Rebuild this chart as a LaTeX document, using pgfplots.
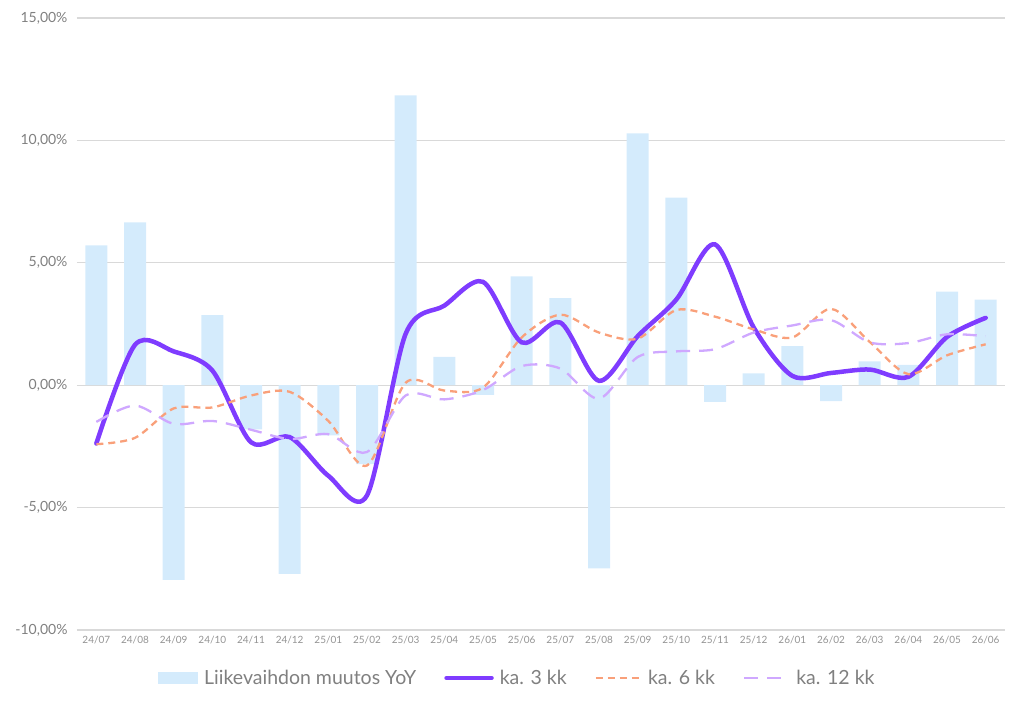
\documentclass[border=0pt]{standalone}
\usepackage{fontspec}
\setmainfont{Lato}
\usepackage{pgfplots}
\pgfplotsset{compat=1.18}
\definecolor{barblue}{HTML}{D4EBFC}
\definecolor{purp}{HTML}{7F3CFF}
\definecolor{orng}{HTML}{F9A07A}
\definecolor{lav}{HTML}{CFA8FF}
\definecolor{txtgray}{HTML}{808080}
\definecolor{gridgray}{HTML}{D9D9D9}
\pgfplotsset{
  lineleg/.style={legend image code/.code={\draw[##1] (0pt,0pt) -- (45pt,0pt);}},
  barleg/.style={legend image code/.code={\fill[barblue] (0pt,-6pt) rectangle (40pt,6pt);}},
}
\begin{document}
\begin{tikzpicture}[x=1pt,y=1pt]
\useasboundingbox (0,0) rectangle (1024,708);
\begin{axis}[
  at={(77pt,78pt)}, anchor=south west,
  width=928pt, height=612pt, scale only axis,
  xmin=-0.5, xmax=23.5, ymin=-10, ymax=15,
  axis line style={draw=none},
  ymajorgrids, grid style={gridgray, line width=1.3pt},
  major tick length=0pt,
  ytick={-10,-5,0,5,10,15},
  yticklabels={{-10,00\%},{-5,00\%},{0,00\%},{5,00\%},{10,00\%},{15,00\%}},
  xtick={0,...,23},
  xticklabels={24/07,24/08,24/09,24/10,24/11,24/12,25/01,25/02,25/03,25/04,25/05,25/06,25/07,25/08,25/09,25/10,25/11,25/12,26/01,26/02,26/03,26/04,26/05,26/06},
  yticklabel style={font=\fontsize{14}{16}\selectfont, text=txtgray, xshift=-6pt},
  xticklabel style={font=\fontsize{10}{12}\selectfont, text=txtgray!85, yshift=-3pt},
  legend columns=4,
  legend style={at={(0.0873,-0.0784)}, anchor=west, draw=none, inner sep=0pt,
    font=\fontsize{19.5}{22}\selectfont, text=txtgray,
    /tikz/every even column/.append style={column sep=26pt},
    /tikz/every odd column/.append style={column sep=4pt},
    cells={anchor=west}},
]
\addplot[ybar, bar width=22pt, bar shift=0pt, fill=barblue, draw=none, barleg]
  coordinates {(0,5.71) (1,6.65) (2,-7.95) (3,2.86) (4,-1.8) (5,-7.71) (6,-2.05) (7,-3.22) (8,11.84) (9,1.16) (10,-0.4) (11,4.45) (12,3.56) (13,-7.48) (14,10.29) (15,7.66) (16,-0.68) (17,0.48) (18,1.6) (19,-0.65) (20,0.97) (21,0.83) (22,3.82) (23,3.5)};
\addlegendentry{Liikevaihdon muutos YoY}
\addplot[purp, line width=4.5pt, smooth, line cap=round, lineleg]
  coordinates {(0,-2.38) (1,1.65) (2,1.38) (3,0.6) (4,-2.33) (5,-2.12) (6,-3.7) (7,-4.5) (8,2.1) (9,3.25) (10,4.22) (11,1.75) (12,2.56) (13,0.18) (14,2.0) (15,3.5) (16,5.75) (17,2.36) (18,0.38) (19,0.5) (20,0.64) (21,0.34) (22,1.97) (23,2.75)};
\addlegendentry{ka. 3 kk}
\addplot[orng, line width=2.3pt, smooth, dash pattern=on 7pt off 5pt, lineleg]
  coordinates {(0,-2.41) (1,-2.15) (2,-0.95) (3,-0.91) (4,-0.42) (5,-0.27) (6,-1.46) (7,-3.28) (8,0.1) (9,-0.22) (10,-0.1) (11,1.95) (12,2.88) (13,2.15) (14,1.9) (15,3.07) (16,2.8) (17,2.28) (18,1.95) (19,3.12) (20,1.77) (21,0.45) (22,1.22) (23,1.67)};
\addlegendentry{ka. 6 kk}
\addplot[lav, line width=2.3pt, smooth, dash pattern=on 14pt off 9pt, lineleg]
  coordinates {(0,-1.5) (1,-0.83) (2,-1.58) (3,-1.46) (4,-1.82) (5,-2.2) (6,-2.0) (7,-2.73) (8,-0.42) (9,-0.58) (10,-0.2) (11,0.78) (12,0.68) (13,-0.55) (14,1.15) (15,1.38) (16,1.47) (17,2.15) (18,2.44) (19,2.66) (20,1.75) (21,1.72) (22,2.08) (23,2.0)};
\addlegendentry{ka. 12 kk}
\end{axis}
\end{tikzpicture}
\end{document}
